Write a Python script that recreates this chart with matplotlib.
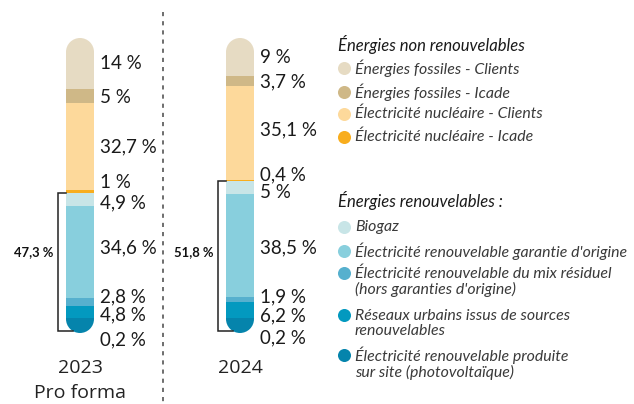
import matplotlib.pyplot as plt
from matplotlib.patches import Ellipse

# energy mix per year, listed from top of the tube to the bottom (%)
years = ["2023", "2024"]
year_notes = ["Pro forma", ""]
shares_2023 = [14, 5, 32.7, 1, 4.9, 34.6, 2.8, 4.8, 0.2]
shares_2024 = [9, 3.7, 35.1, 0.4, 5, 38.5, 1.9, 6.2, 0.2]
n_fossil = 4  # first four segments are non-renewable

colors = ["#E6DBC3", "#CFB887", "#FDD99B", "#F8AD1E",
          "#C8E5E7", "#88CFDD", "#56B0CE", "#0399BF", "#0584AC"]

legend_nonrenew_title = "Énergies non renouvelables"
legend_nonrenew = ["Énergies fossiles - Clients",
                   "Énergies fossiles - Icade",
                   "Électricité nucléaire - Clients",
                   "Électricité nucléaire - Icade"]
legend_renew_title = "Énergies renouvelables :"
legend_renew = ["Biogaz",
                "Électricité renouvelable garantie d'origine",
                "Électricité renouvelable du mix résiduel\n(hors garanties d'origine)",
                "Réseaux urbains issus de sources\nrenouvelables",
                "Électricité renouvelable produite\nsur site (photovoltaïque)"]

# label nudges in pixels (positive = down) so small segments don't collide
nudge_2023 = [0, 1, 0, -9, 4, -4, -5, 3, 21]
nudge_2024 = [0, 1, -3, -5, 5, 2, -3, 6, 19]

W, H = 634, 404
PX = 2.67          # pixels per percent
BASE = 319         # pixel row of the 0 % line
CAP = 14           # tube end radius in pixels
BAR_W = 28
bar_x = [80, 240]

def fmt(v):
    return f"{v:g}".replace(".", ",") + " %"

fig = plt.figure(figsize=(W / 100, H / 100), dpi=100)
ax = fig.add_axes([0, 0, 1, 1])
ax.set_xlim(0, W)
ax.set_ylim((BASE - H) / PX, BASE / PX)
ax.axis("off")

# overlay in pixel units for legend / annotations
px = fig.add_axes([0, 0, 1, 1], facecolor="none")
px.set_xlim(0, W)
px.set_ylim(H, 0)
px.axis("off")

cap_h = 2 * CAP / PX
value_font = dict(family="Lato", fontsize=13.5, color="#1a1a1a")

for x, shares, nudges, year, note in zip(bar_x, [shares_2023, shares_2024],
                                         [nudge_2023, nudge_2024], years, year_notes):
    # rounded ends of the tube
    ax.add_patch(Ellipse((x, 100), BAR_W, cap_h, color=colors[0], zorder=1, lw=0))
    ax.add_patch(Ellipse((x, 0), BAR_W, cap_h, color=colors[-1], zorder=1, lw=0))

    top = 100
    for i, (v, c) in enumerate(zip(shares, colors)):
        bottom = top - v
        ax.bar(x, v, bottom=bottom, width=BAR_W, color=c, lw=0, zorder=2)
        center = (bottom + top) / 2
        if i == 0:
            center = (bottom + top + CAP / PX) / 2
        ax.text(x + 20, center - nudges[i] / PX, fmt(v), va="center", ha="left",
                **value_font)
        top = bottom

    # bracket around the renewable part
    renew = sum(shares[n_fossil:])
    bx = x - 22
    y_low = -12 / PX
    ax.plot([bx + 8, bx, bx, x - 7], [renew, renew, y_low, y_low],
            color="#222222", lw=1.1, zorder=3, solid_joinstyle="miter")
    ax.text(bx - 5, 25, fmt(round(renew, 1)), ha="right", va="center",
            family="Lato", weight="bold", fontsize=9.4, color="#111111")

    px.text(x, 368, year, ha="center", va="center", family="Open Sans",
            fontsize=14, color="#222222")
    if note:
        px.text(x, 393, note, ha="center", va="center", family="Open Sans",
                fontsize=14, color="#222222")

# dashed divider between the two years
px.plot([163, 163], [12, H], color="#555555", lw=1.2, ls=(0, (2.5, 3)))

# legend
leg_font = dict(family="Lato", style="italic", fontsize=11.4, color="#3a3a3a",
                va="center", ha="left", linespacing=1.1)
title_font = dict(family="Lato", style="italic", fontsize=12, color="#1a1a1a",
                  va="center", ha="left")
px.text(338, 44, legend_nonrenew_title, **title_font)
for i, (lab, y) in enumerate(zip(legend_nonrenew, [68, 92, 114, 137])):
    px.scatter(344, y, s=88, color=colors[i], lw=0)
    px.text(355, y, lab, **leg_font)

px.text(338, 200, legend_renew_title, **title_font)
for i, (lab, y) in enumerate(zip(legend_renew, [227, 251, 273, 315, 355])):
    px.scatter(344, y, s=88, color=colors[n_fossil + i], lw=0)
    n_lines = lab.count("\n") + 1
    px.text(355, y + (n_lines - 1) * 8.5, lab, **leg_font)

fig.savefig("out.png", dpi=100)
